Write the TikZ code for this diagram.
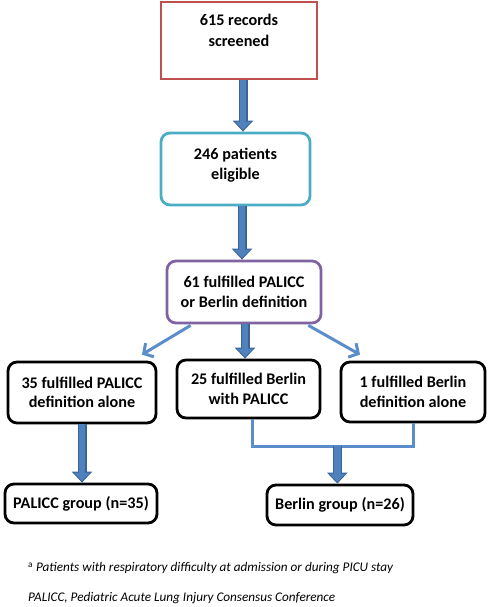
\documentclass[tikz,border=0pt]{standalone}
\usepackage{fontspec}
\setmainfont{Carlito}
\usetikzlibrary{arrows.meta,calc}
\definecolor{redb}{HTML}{C0504D}
\definecolor{cyanb}{HTML}{4BACC6}
\definecolor{purpb}{HTML}{8064A2}
\definecolor{fatblue}{HTML}{4F81BD}
\definecolor{fatedge}{HTML}{3A6397}
\definecolor{thinblue}{HTML}{5B8DCB}
\begin{document}
\begin{tikzpicture}[x=1pt,y=-1pt,
  box/.style={draw, line width=2.8pt, align=center, inner sep=0pt,
    font=\fontsize{16.2pt}{19.5pt}\selectfont\bfseries},
  rbox/.style={box, rounded corners=9pt},
  fat/.style={draw=fatblue, line width=6.5pt, shorten >=1.6pt,
    -{Triangle[width=16pt,length=8.5pt]},
    preaction={draw=fatedge, line width=9pt, shorten >=0pt,
      -{Triangle[width=20pt,length=11pt]}}},
  thin/.style={draw=thinblue, line width=3pt, -{Straight Barb[length=7pt,width=16pt]}},
  brk/.style={draw=thinblue, line width=3pt},
  note/.style={anchor=west, inner sep=0pt, font=\fontsize{13.2pt}{15pt}\selectfont\itshape}]
\useasboundingbox (0,0) rectangle (489,607);
\node[box, draw=redb, minimum width=156pt, minimum height=77pt] (a) at (239,40.5)
  {\raisebox{4pt}[0pt][0pt]{\begin{tabular}{@{}c@{}}615 records\\[1pt]screened\end{tabular}}};
\node[rbox, draw=cyanb, minimum width=149pt, minimum height=72pt] (b) at (235.5,169)
  {\raisebox{-1pt}[0pt][0pt]{\begin{tabular}{@{}c@{}}246 patients\\[1pt]eligible\end{tabular}}};
\node[rbox, draw=purpb, minimum width=154pt, minimum height=62pt] (c) at (244,292)
  {61 fulfilled PALICC\\or Berlin definition};
\node[rbox, draw=black, minimum width=148pt, minimum height=61pt] (l) at (82,392.5)
  {35 fulfilled PALICC\\definition alone};
\node[rbox, draw=black, minimum width=143pt, minimum height=58pt] (m) at (248.5,389)
  {25 fulfilled Berlin\\with PALICC};
\node[rbox, draw=black, minimum width=144pt, minimum height=60pt] (r) at (413,392)
  {1 fulfilled Berlin\\definition alone};
\node[rbox, draw=black, minimum width=152pt, minimum height=39pt] (bl) at (81,503.5)
  {PALICC group (n=35)};
\node[rbox, draw=black, minimum width=146pt, minimum height=40pt] (br) at (340,505)
  {Berlin group (n=26)};
\node[note] (n1) at (28,568) {\textsuperscript{\upshape a} Patients with respiratory difficulty at admission or during PICU stay};
\node[note] (n2) at (28,598) {PALICC, Pediatric Acute Lung Injury Consensus Conference};
% arrows
\draw[fat] (a.south -| 243,0) -- (b.north -| 243,0);
\draw[fat] (b.south -| 242,0) -- (c.north -| 242,0);
\draw[fat] (c.south -| 245,0) -- (m.north -| 245,0);
\draw[thin] ($(c.south west)+(25,1)$) -- ($(l.north)+(60,-6)$);
\draw[thin] ($(c.south east)+(-14,1)$) -- ($(r.north)+(-53,-6)$);
\draw[fat] (l.south) -- (bl.north -| l.south);
\coordinate (j1) at ($(m.south)+(3.5,27)$);
\coordinate (j2) at (j1 -| r.south);
\draw[brk] ($(m.south)+(3.5,0)$) -- (j1) -- (j2) -- (r.south);
\coordinate (jm) at ($(j1)!0.53!(j2)$);
\draw[fat] (jm) -- (br.north -| jm);
\end{tikzpicture}
\end{document}
